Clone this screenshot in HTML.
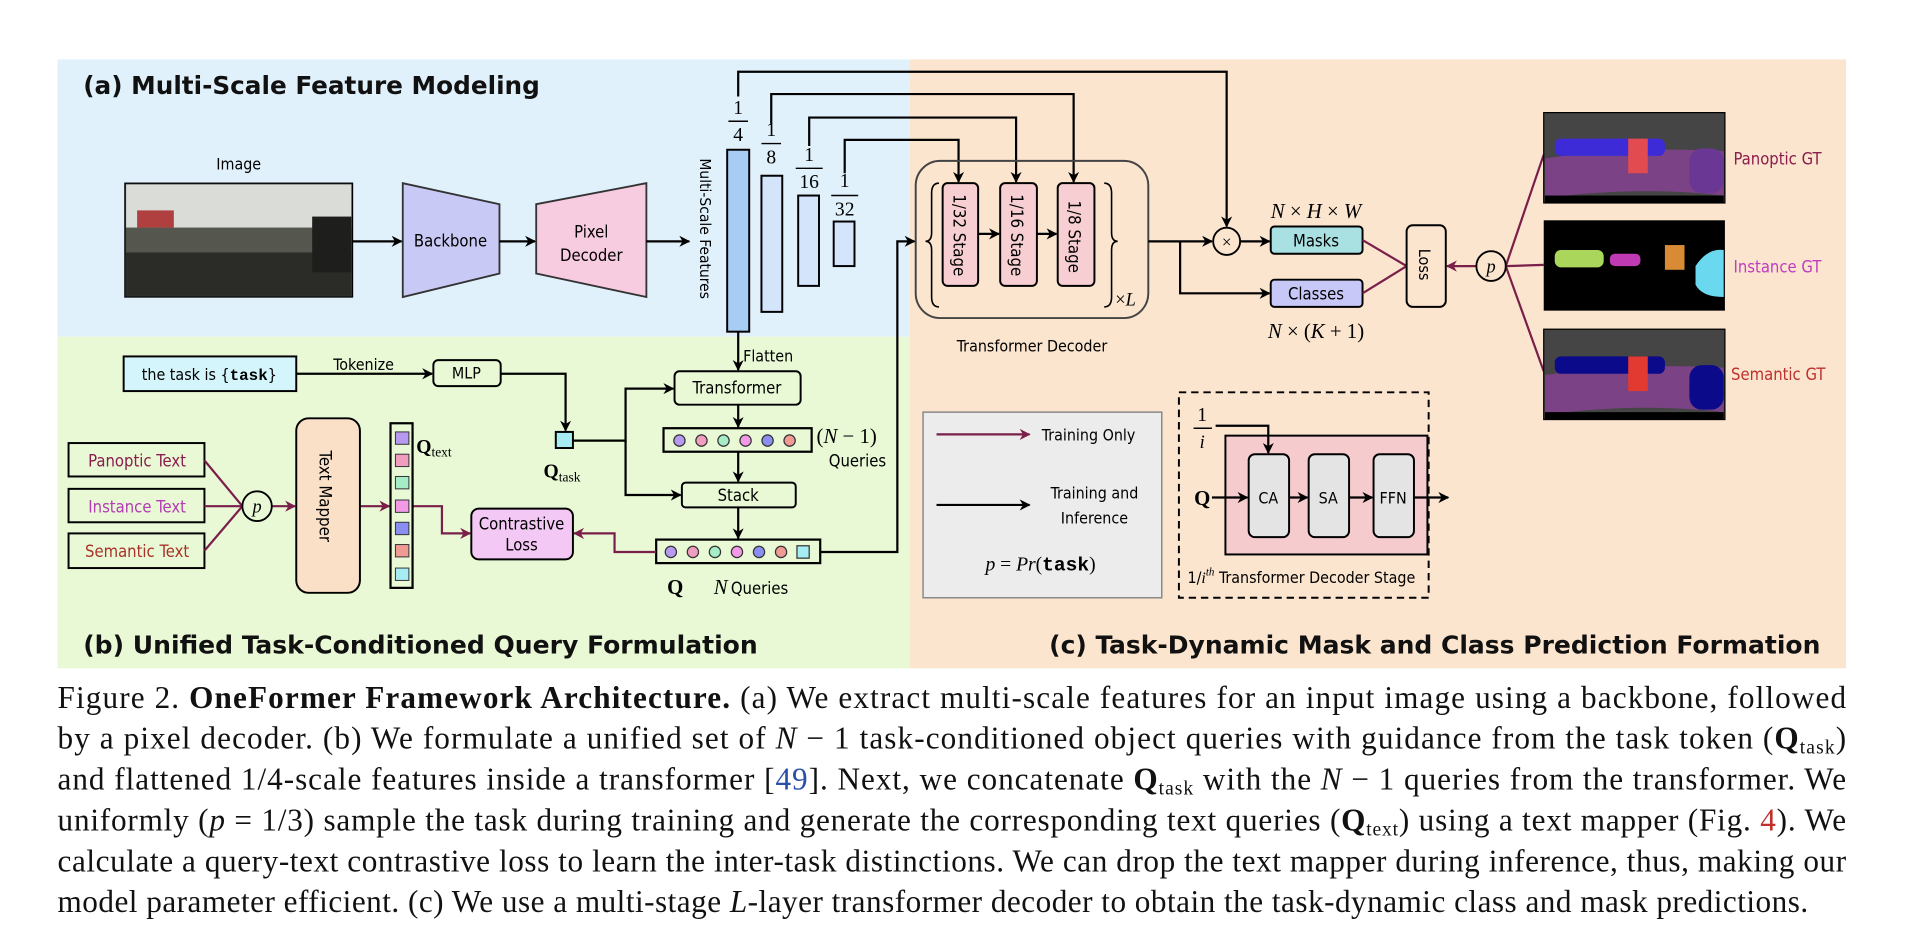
<!DOCTYPE html>
<html><head><meta charset="utf-8"><style>
html,body{margin:0;padding:0;background:#fff;width:1922px;height:948px;overflow:hidden}
svg{display:block}
.s{font-family:"DejaVu Sans Condensed","DejaVu Sans","Liberation Sans",sans-serif}
.m{font-family:"Liberation Serif",serif}
</style></head><body>
<svg width="1922" height="948" viewBox="0 0 1570 766" preserveAspectRatio="none" xmlns="http://www.w3.org/2000/svg">
<defs>
<marker id="ab" viewBox="0 0 10 10" refX="9" refY="5" markerWidth="9" markerHeight="9" markerUnits="userSpaceOnUse" orient="auto"><path d="M0,0 L10,5 L0,10 L3,5 z" fill="#000"/></marker>
<marker id="ap" viewBox="0 0 10 10" refX="9" refY="5" markerWidth="9" markerHeight="9" markerUnits="userSpaceOnUse" orient="auto"><path d="M0,0 L10,5 L0,10 L3,5 z" fill="#7a1f4a"/></marker>
</defs>
<rect x="47" y="48" width="696" height="224" fill="#e0f1fc"/>
<rect x="47" y="272" width="696" height="268" fill="#e9f9d6"/>
<rect x="743" y="48" width="765" height="492" fill="#fbe5cf"/>
<g class="s" font-weight="bold" font-size="20" fill="#111">
<text x="68" y="76" textLength="373" lengthAdjust="spacingAndGlyphs">(a) Multi-Scale Feature Modeling</text>
<text x="68" y="528" textLength="551" lengthAdjust="spacingAndGlyphs">(b) Unified Task-Conditioned Query Formulation</text>
<text x="857" y="528" textLength="630" lengthAdjust="spacingAndGlyphs">(c) Task-Dynamic Mask and Class Prediction Formation</text>
</g>
<text class="s" x="195" y="137" font-size="13" text-anchor="middle">Image</text>
<rect x="102" y="148" width="186" height="92" fill="#3a3c36" stroke="#000"/>
<rect x="103" y="149" width="184" height="35" fill="#d9dcd7"/>
<rect x="112" y="170" width="30" height="14" fill="#b04040"/>
<rect x="103" y="184" width="184" height="20" fill="#55574e"/>
<rect x="103" y="204" width="184" height="35" fill="#2b2c28"/>
<rect x="255" y="175" width="32" height="45" fill="#1e1f1c"/>
<path d="M329,148 L408,165 L408,221 L329,240 Z" fill="#c9c9f5" stroke="#333" stroke-width="1.5"/>
<text class="s" x="368" y="199" font-size="13.5" text-anchor="middle">Backbone</text>
<path d="M438,165 L528,148 L528,240 L438,221 Z" fill="#f7cbe0" stroke="#333" stroke-width="1.5"/>
<text class="s" x="483" y="192" font-size="13.5" text-anchor="middle">Pixel</text>
<text class="s" x="483" y="211" font-size="13.5" text-anchor="middle">Decoder</text>
<g stroke="#000" stroke-width="1.8" fill="none" marker-end="url(#ab)">
<line x1="288" y1="195" x2="328" y2="195"/>
<line x1="408" y1="195" x2="437" y2="195"/>
<line x1="528" y1="195" x2="563" y2="195"/>
</g>
<text class="s" transform="translate(572,128) rotate(90)" font-size="12.5">Multi-Scale Features</text>
<rect x="594" y="121" width="18" height="147" fill="#a7cdf5" stroke="#000" stroke-width="1.6"/>
<rect x="622" y="142" width="17" height="110" fill="#d3e4fb" stroke="#000" stroke-width="1.6"/>
<rect x="652" y="158" width="17" height="73" fill="#d3e4fb" stroke="#000" stroke-width="1.6"/>
<rect x="681" y="179" width="17" height="36" fill="#d3e4fb" stroke="#000" stroke-width="1.6"/>
<g class="m" font-size="16" text-anchor="middle">
<text x="603" y="92">1</text><line x1="595" y1="98" x2="611" y2="98" stroke="#000" stroke-width="1.2"/><text x="603" y="114">4</text>
<text x="630" y="110">1</text><line x1="622" y1="116" x2="638" y2="116" stroke="#000" stroke-width="1.2"/><text x="630" y="132">8</text>
<text x="661" y="130">1</text><line x1="650" y1="136" x2="672" y2="136" stroke="#000" stroke-width="1.2"/><text x="661" y="152">16</text>
<text x="690" y="151">1</text><line x1="679" y1="158" x2="701" y2="158" stroke="#000" stroke-width="1.2"/><text x="690" y="174">32</text>
</g>
<g stroke="#000" stroke-width="1.8" fill="none">
<polyline points="603,78 603,58 1002,58 1002,183" marker-end="url(#ab)"/>
<polyline points="630,100 630,76 877,76 877,147" marker-end="url(#ab)"/>
<polyline points="661,118 661,95 830,95 830,147" marker-end="url(#ab)"/>
<polyline points="690,140 690,113 783,113 783,147" marker-end="url(#ab)"/>
</g>
<rect x="748" y="130" width="190" height="127" rx="20" fill="none" stroke="#444" stroke-width="1.6"/>
<path d="M767,148 Q761,148 761,156 L761,188 Q761,195 756,195 Q761,195 761,202 L761,240 Q761,248 767,248" fill="none" stroke="#000" stroke-width="1.3"/>
<path d="M902,148 Q908,148 908,156 L908,188 Q908,195 913,195 Q908,195 908,202 L908,240 Q908,248 902,248" fill="none" stroke="#000" stroke-width="1.3"/>
<text class="m" x="911" y="247" font-size="15">×<tspan font-style="italic">L</tspan></text>
<g fill="#f7cfd2" stroke="#000" stroke-width="1.6">
<rect x="770" y="148" width="29" height="83" rx="4"/>
<rect x="817" y="148" width="30" height="83" rx="4"/>
<rect x="864" y="148" width="30" height="83" rx="4"/>
</g>
<g class="s" font-size="13.5">
<text transform="translate(779,157) rotate(90)">1/32 Stage</text>
<text transform="translate(826,157) rotate(90)">1/16 Stage</text>
<text transform="translate(873,162) rotate(90)">1/8 Stage</text>
</g>
<g stroke="#000" stroke-width="1.8" fill="none" marker-end="url(#ab)">
<line x1="799" y1="189" x2="816" y2="189"/>
<line x1="847" y1="189" x2="863" y2="189"/>
<polyline points="670,446 733,446 733,195 747,195"/>
<line x1="938" y1="195" x2="990" y2="195"/>
<polyline points="964,195 964,237 1037,237"/>
<line x1="1013" y1="195" x2="1037" y2="195"/>
</g>
<text class="s" x="843" y="284" font-size="13" text-anchor="middle">Transformer Decoder</text>
<circle cx="1002" cy="195" r="11" fill="none" stroke="#000" stroke-width="1.5"/>
<text class="m" x="1002" y="200" font-size="14" text-anchor="middle">×</text>
<rect x="1038" y="183" width="75" height="22" rx="3" fill="#a9e0e2" stroke="#000" stroke-width="1.6"/>
<text class="s" x="1075" y="199" font-size="13.5" text-anchor="middle">Masks</text>
<rect x="1038" y="226" width="75" height="22" rx="3" fill="#c8c8f8" stroke="#000" stroke-width="1.6"/>
<text class="s" x="1075" y="242" font-size="13.5" text-anchor="middle">Classes</text>
<text class="m" x="1075" y="176" font-size="17" text-anchor="middle" font-style="italic">N <tspan font-style="normal">×</tspan> H <tspan font-style="normal">×</tspan> W</text>
<text class="m" x="1075" y="273" font-size="17" text-anchor="middle"><tspan font-style="italic">N</tspan> × (<tspan font-style="italic">K</tspan> + 1)</text>
<g stroke="#7a1f4a" stroke-width="1.8" fill="none">
<line x1="1113" y1="194" x2="1149" y2="215"/>
<line x1="1113" y1="237" x2="1149" y2="215"/>
<line x1="1206" y1="215" x2="1182" y2="215" marker-end="url(#ap)"/>
<line x1="1230" y1="215" x2="1261" y2="125"/>
<line x1="1230" y1="215" x2="1261" y2="214"/>
<line x1="1230" y1="215" x2="1261" y2="300"/>
</g>
<rect x="1149" y="182" width="32" height="66" rx="5" fill="none" stroke="#000" stroke-width="1.6"/>
<text class="s" transform="translate(1159,201) rotate(90)" font-size="13">Loss</text>
<circle cx="1218" cy="215" r="12" fill="none" stroke="#000" stroke-width="1.5"/>
<text class="m" x="1218" y="220" font-size="15" font-style="italic" text-anchor="middle">p</text>
<g>
<rect x="1261" y="91" width="148" height="73" fill="#454545" stroke="#000"/>
<path d="M1262,128 Q1330,118 1408,122 L1408,158 Q1340,150 1262,160 Z" fill="#7b4385"/>
<rect x="1270" y="112" width="90" height="14" rx="5" fill="#3c2bd6"/>
<rect x="1330" y="112" width="16" height="28" fill="#e24b50"/>
<rect x="1380" y="120" width="28" height="36" rx="10" fill="#6a3794"/>
<rect x="1262" y="158" width="146" height="6" fill="#000"/>
<rect x="1261" y="178" width="148" height="73" fill="#000"/>
<rect x="1270" y="202" width="40" height="14" rx="5" fill="#a9d65b"/>
<rect x="1315" y="205" width="25" height="10" rx="4" fill="#c03ab3"/>
<rect x="1360" y="198" width="16" height="20" fill="#d88a35"/>
<path d="M1385,215 Q1395,200 1408,202 L1408,240 Q1390,240 1385,230 Z" fill="#6ad9f0"/>
<rect x="1261" y="266" width="148" height="73" fill="#454545" stroke="#000"/>
<path d="M1262,303 Q1330,293 1408,297 L1408,333 Q1340,325 1262,335 Z" fill="#7b4385"/>
<rect x="1270" y="288" width="90" height="14" rx="5" fill="#0a0a8a"/>
<rect x="1330" y="288" width="16" height="28" fill="#e23a30"/>
<rect x="1380" y="295" width="28" height="36" rx="10" fill="#0a0a8a"/>
<rect x="1262" y="333" width="146" height="6" fill="#000"/>
</g>
<g class="s" font-size="13.5">
<text x="1416" y="133" fill="#8b1c4c">Panoptic GT</text>
<text x="1416" y="220" fill="#c03cc0">Instance GT</text>
<text x="1414" y="307" fill="#c0302c">Semantic GT</text>
</g>
<rect x="754" y="333" width="195" height="150" fill="#ececec" stroke="#888" stroke-width="1.2"/>
<line x1="765" y1="351" x2="841" y2="351" stroke="#7a1f4a" stroke-width="1.8" marker-end="url(#ap)"/>
<line x1="765" y1="408" x2="841" y2="408" stroke="#000" stroke-width="1.8" marker-end="url(#ab)"/>
<g class="s" font-size="13">
<text x="851" y="356">Training Only</text>
<text x="894" y="403" text-anchor="middle">Training and</text>
<text x="894" y="423" text-anchor="middle">Inference</text>
</g>
<text class="m" x="850" y="461" font-size="16" text-anchor="middle"><tspan font-style="italic">p</tspan> = <tspan font-style="italic">Pr</tspan>(<tspan font-family="Liberation Mono,monospace" font-weight="bold">task</tspan>)</text>
<rect x="963" y="317" width="204" height="166" fill="none" stroke="#000" stroke-width="1.6" stroke-dasharray="6,4"/>
<rect x="1001" y="352" width="165" height="96" fill="#f6cbce" stroke="#000" stroke-width="1.6"/>
<g fill="#e4e4e4" stroke="#000" stroke-width="1.6">
<rect x="1020" y="367" width="33" height="67" rx="5"/>
<rect x="1069" y="367" width="33" height="67" rx="5"/>
<rect x="1122" y="367" width="33" height="67" rx="5"/>
</g>
<g class="s" font-size="13" text-anchor="middle">
<text x="1036" y="407">CA</text><text x="1085" y="407">SA</text><text x="1138" y="407">FFN</text>
</g>
<text class="m" x="982" y="340" font-size="16" text-anchor="middle">1</text>
<line x1="975" y1="346" x2="990" y2="346" stroke="#000" stroke-width="1.2"/>
<text class="m" x="982" y="362" font-size="15" font-style="italic" text-anchor="middle">i</text>
<text class="m" x="982" y="408" font-size="17" font-weight="bold" text-anchor="middle">Q</text>
<g stroke="#000" stroke-width="1.8" fill="none" marker-end="url(#ab)">
<polyline points="993,344 1036,344 1036,366"/>
<line x1="990" y1="402" x2="1019" y2="402"/>
<line x1="1053" y1="402" x2="1068" y2="402"/>
<line x1="1102" y1="402" x2="1121" y2="402"/>
<line x1="1155" y1="402" x2="1183" y2="402"/>
</g>
<text class="s" x="970" y="471" font-size="13">1/<tspan class="m" font-style="italic">i</tspan><tspan class="m" font-style="italic" font-size="9" dy="-6">th</tspan><tspan dy="6"> Transformer Decoder Stage</tspan></text>
<rect x="101" y="288" width="141" height="28" fill="#d3f5fb" stroke="#000" stroke-width="1.6"/>
<text class="s" x="171" y="307" font-size="13" text-anchor="middle">the task is {<tspan font-family="Liberation Mono,monospace" font-weight="bold">task</tspan>}</text>
<text class="s" x="297" y="299" font-size="13" text-anchor="middle">Tokenize</text>
<rect x="354" y="291" width="55" height="21" rx="4" fill="none" stroke="#000" stroke-width="1.6"/>
<text class="s" x="381" y="306" font-size="13" text-anchor="middle">MLP</text>
<rect x="454" y="349" width="14" height="13" fill="#a6ecf3" stroke="#000" stroke-width="1.6"/>
<text class="m" x="444" y="386" font-size="16" font-weight="bold">Q<tspan font-size="11" font-weight="normal" dy="3">task</tspan></text>
<rect x="551" y="300" width="103" height="27" rx="4" fill="none" stroke="#000" stroke-width="1.6"/>
<text class="s" x="602" y="318" font-size="13.5" text-anchor="middle">Transformer</text>
<rect x="557" y="390" width="93" height="20" rx="3" fill="none" stroke="#000" stroke-width="1.6"/>
<text class="s" x="603" y="405" font-size="13.5" text-anchor="middle">Stack</text>
<text class="s" x="607" y="292" font-size="13">Flatten</text>
<rect x="542" y="346" width="121" height="19" fill="none" stroke="#000" stroke-width="1.8"/>
<g stroke="#333" stroke-width="1">
<circle cx="555" cy="356" r="4.6" fill="#b79af0"/><circle cx="573" cy="356" r="4.6" fill="#ef9ec0"/><circle cx="591" cy="356" r="4.6" fill="#a6ecc6"/><circle cx="609" cy="356" r="4.6" fill="#f29ae8"/><circle cx="627" cy="356" r="4.6" fill="#8a8ef0"/><circle cx="645" cy="356" r="4.6" fill="#f09a94"/>
</g>
<text class="m" x="667" y="358" font-size="17">(<tspan font-style="italic">N</tspan> − 1)</text>
<text class="s" x="677" y="377" font-size="13.5">Queries</text>
<rect x="536" y="436" width="134" height="19" fill="none" stroke="#000" stroke-width="1.8"/>
<g stroke="#333" stroke-width="1">
<circle cx="548" cy="446" r="4.6" fill="#b79af0"/><circle cx="566" cy="446" r="4.6" fill="#ef9ec0"/><circle cx="584" cy="446" r="4.6" fill="#a6ecc6"/><circle cx="602" cy="446" r="4.6" fill="#f29ae8"/><circle cx="620" cy="446" r="4.6" fill="#8a8ef0"/><circle cx="638" cy="446" r="4.6" fill="#f09a94"/>
<rect x="651" y="441" width="10" height="10" fill="#a6ecf3"/>
</g>
<text class="m" x="545" y="480" font-size="17" font-weight="bold">Q</text>
<text class="m" x="583" y="480" font-size="17" font-style="italic">N</text>
<text class="s" x="597" y="480" font-size="13.5">Queries</text>
<g stroke="#000" stroke-width="1.8" fill="none" marker-end="url(#ab)">
<line x1="242" y1="302" x2="353" y2="302"/>
<polyline points="409,302 462,302 462,348"/>
<polyline points="468,356 511,356 511,314 550,314"/>
<polyline points="511,356 511,400 556,400"/>
<line x1="603" y1="268" x2="603" y2="299"/>
<line x1="603" y1="327" x2="603" y2="345"/>
<line x1="603" y1="365" x2="603" y2="389"/>
<line x1="603" y1="410" x2="603" y2="435"/>
</g>
<g fill="none" stroke="#000" stroke-width="1.6">
<rect x="56" y="358" width="111" height="27"/>
<rect x="56" y="395" width="111" height="27"/>
<rect x="56" y="431" width="111" height="28"/>
</g>
<g class="s" font-size="13.5" text-anchor="middle">
<text x="112" y="377" fill="#8b1c4c">Panoptic Text</text>
<text x="112" y="414" fill="#b43cb4">Instance Text</text>
<text x="112" y="450" fill="#a8322a">Semantic Text</text>
</g>
<g stroke="#7a1f4a" stroke-width="1.8" fill="none">
<line x1="167" y1="372" x2="198" y2="409"/>
<line x1="167" y1="409" x2="198" y2="409"/>
<line x1="167" y1="445" x2="198" y2="409"/>
<line x1="222" y1="409" x2="241" y2="409" marker-end="url(#ap)"/>
<line x1="294" y1="409" x2="318" y2="409" marker-end="url(#ap)"/>
<polyline points="337,409 361,409 361,431 384,431" marker-end="url(#ap)"/>
<polyline points="536,446 502,446 502,431 469,431" marker-end="url(#ap)"/>
</g>
<circle cx="210" cy="409" r="12" fill="none" stroke="#000" stroke-width="1.5"/>
<text class="m" x="210" y="414" font-size="15" font-style="italic" text-anchor="middle">p</text>
<rect x="242" y="338" width="52" height="141" rx="10" fill="#fbe0c8" stroke="#000" stroke-width="1.6"/>
<text class="s" transform="translate(261,364) rotate(90)" font-size="13.5">Text Mapper</text>
<rect x="319" y="342" width="18" height="133" fill="none" stroke="#000" stroke-width="1.8"/>
<g stroke="#333" stroke-width="0.8">
<rect x="323" y="349" width="11" height="10" fill="#b79af0"/>
<rect x="323" y="367" width="11" height="10" fill="#ef9ec0"/>
<rect x="323" y="385" width="11" height="10" fill="#a6ecc6"/>
<rect x="323" y="404" width="11" height="10" fill="#f29ae8"/>
<rect x="323" y="422" width="11" height="10" fill="#8a8ef0"/>
<rect x="323" y="440" width="11" height="10" fill="#f09a94"/>
<rect x="323" y="459" width="11" height="10" fill="#a6ecf3"/>
</g>
<text class="m" x="340" y="366" font-size="16" font-weight="bold">Q<tspan font-size="11" font-weight="normal" dy="3">text</tspan></text>
<rect x="385" y="411" width="83" height="41" rx="6" fill="#f4c8f4" stroke="#000" stroke-width="1.6"/>
<text class="s" x="426" y="428" font-size="13.5" text-anchor="middle">Contrastive</text>
<text class="s" x="426" y="445" font-size="13.5" text-anchor="middle">Loss</text>
<g class="m" font-size="25.5" fill="#111">
<text x="47" y="572" textLength="1461" lengthAdjust="spacing">Figure 2.  <tspan font-weight="bold">OneFormer Framework Architecture.</tspan>  (a) We extract multi-scale features for an input image using a backbone, followed</text>
<text x="47" y="605" textLength="1461" lengthAdjust="spacing">by a pixel decoder.  (b) We formulate a unified set of <tspan font-style="italic">N</tspan> − 1 task-conditioned object queries with guidance from the task token (<tspan font-weight="bold">Q</tspan><tspan font-size="16" dy="4">task</tspan><tspan dy="-4">)</tspan></text>
<text x="47" y="638" textLength="1461" lengthAdjust="spacing">and flattened 1/4-scale features inside a transformer [<tspan fill="#2a4fa8">49</tspan>].  Next, we concatenate <tspan font-weight="bold">Q</tspan><tspan font-size="16" dy="4">task</tspan><tspan dy="-4"> with the </tspan><tspan font-style="italic">N</tspan> − 1 queries from the transformer.  We</text>
<text x="47" y="671" textLength="1461" lengthAdjust="spacing">uniformly (<tspan font-style="italic">p</tspan> = 1/3) sample the task during training and generate the corresponding text queries (<tspan font-weight="bold">Q</tspan><tspan font-size="16" dy="4">text</tspan><tspan dy="-4">) using a text mapper (Fig. </tspan><tspan fill="#c0302c">4</tspan>).  We</text>
<text x="47" y="704" textLength="1461" lengthAdjust="spacing">calculate a query-text contrastive loss to learn the inter-task distinctions. We can drop the text mapper during inference, thus, making our</text>
<text x="47" y="737" textLength="1430" lengthAdjust="spacing">model parameter efficient. (c) We use a multi-stage <tspan font-style="italic">L</tspan>-layer transformer decoder to obtain the task-dynamic class and mask predictions.</text>
</g>
</svg>
</body></html>
